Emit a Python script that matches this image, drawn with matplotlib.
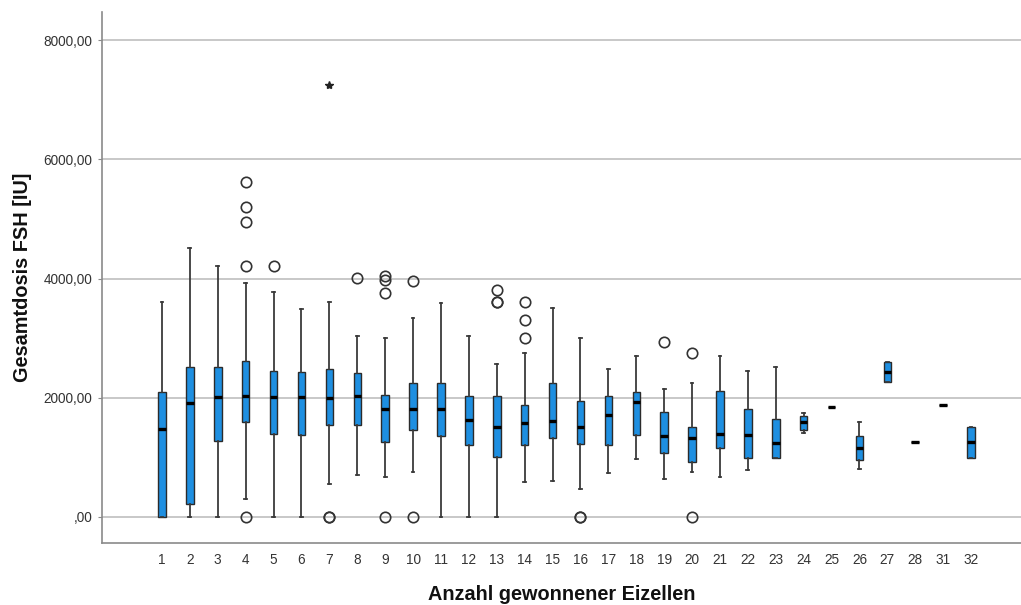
import matplotlib
matplotlib.use("Agg")
import matplotlib.pyplot as plt
from matplotlib.ticker import FuncFormatter

plt.rcParams['font.family'] = ['Liberation Sans', 'DejaVu Sans']

# Anzahl gewonnener Eizellen (categories)
labels = [1, 2, 3, 4, 5, 6, 7, 8, 9, 10, 11, 12, 13, 14, 15, 16, 17, 18, 19, 20,
          21, 22, 23, 24, 25, 26, 27, 28, 31, 32]

# box statistics (Gesamtdosis FSH [IU])
whislo = [0, 0, 0, 310, 0, 0, 555, 705, 665, 760, 0, 0, 0, 580, 610, 465, 745, 965, 630, 750,
          670, 790, 995, 1405, 1840, 805, 2265, 1258, 1885, 995]
q1 = [0, 220, 1280, 1600, 1400, 1380, 1535, 1535, 1255, 1455, 1355, 1200, 1010, 1200, 1325, 1225, 1200, 1380, 1080, 915,
      1165, 995, 995, 1460, 1840, 955, 2265, 1258, 1885, 995]
med = [1470, 1905, 2005, 2035, 2005, 2005, 1990, 2035, 1805, 1805, 1805, 1625, 1510, 1580, 1615, 1510, 1710, 1925, 1360, 1320,
       1390, 1370, 1235, 1590, 1840, 1150, 2435, 1258, 1885, 1258]
q3 = [2100, 2520, 2510, 2615, 2455, 2430, 2480, 2410, 2045, 2255, 2255, 2035, 2035, 1880, 2255, 1940, 2035, 2100, 1755, 1515,
      2120, 1810, 1645, 1700, 1840, 1365, 2600, 1258, 1885, 1505]
whishi = [3610, 4505, 4210, 3920, 3770, 3495, 3610, 3035, 3005, 3345, 3585, 3035, 2575, 2755, 3510, 3005, 2480, 2705, 2140, 2255,
          2700, 2445, 2510, 1740, 1840, 1600, 2600, 1258, 1885, 1505]
outliers = {
    4: [0, 4210, 4950, 5205, 5625],
    5: [4210],
    7: [0, 0],
    8: [4005],
    9: [0, 3750, 3975, 4040],
    10: [0, 3955],
    13: [3605, 3605, 3805],
    14: [3005, 3305, 3605],
    16: [0, 0],
    19: [2940],
    20: [0, 2755],
}
# extreme values (star)
extremes = {7: [7245]}

stats = []
for i, lab in enumerate(labels):
    stats.append(dict(med=med[i], q1=q1[i], q3=q3[i], whislo=whislo[i], whishi=whishi[i],
                      fliers=outliers.get(lab, []), label=str(lab)))

fig = plt.figure(figsize=(10.21, 6.05), dpi=100)
ax = fig.add_axes([0.0999, 0.1025, 0.9001, 0.8775])

positions = list(range(len(labels)))
ax.bxp(stats, positions=positions, widths=0.27, patch_artist=True,
       boxprops=dict(facecolor='#1e8fe1', edgecolor='#2b2b2b', linewidth=1.0),
       medianprops=dict(color='black', linewidth=2.4),
       whiskerprops=dict(color='#3a3a3a', linewidth=1.3),
       capprops=dict(color='#3a3a3a', linewidth=1.3),
       capwidths=0.1,
       flierprops=dict(marker='o', markerfacecolor='none', markeredgecolor='#333333',
                       markersize=7.5, markeredgewidth=1.2),
       zorder=3)

for lab, vals in extremes.items():
    p = labels.index(lab)
    ax.plot([p] * len(vals), vals, linestyle='none', marker='*', color='#222222',
            markersize=6, zorder=4)

ax.set_xlim(-2.15, 30.79)
ax.set_ylim(-436, 8470)
ax.set_yticks([0, 2000, 4000, 6000, 8000])
ax.yaxis.set_major_formatter(FuncFormatter(lambda v, _: ',00' if v == 0 else f'{int(v)},00'))
ax.set_xticks(positions)
ax.set_xticklabels([str(l) for l in labels])

ax.grid(axis='y', color='#c8c8c8', linewidth=1.4, zorder=0)
ax.set_axisbelow(True)
for s in ['top', 'right']:
    ax.spines[s].set_visible(False)
for s in ['left', 'bottom']:
    ax.spines[s].set_color('#8a8a8a')
    ax.spines[s].set_linewidth(1.2)

ax.tick_params(axis='y', length=3, color='#8a8a8a', labelsize=9.8, labelcolor='#333333', pad=4)
ax.tick_params(axis='x', length=0, labelsize=9.8, labelcolor='#333333', pad=7)

ax.set_xlabel('Anzahl gewonnener Eizellen', fontsize=14.3, fontweight='bold', color='#111111', labelpad=13)
ax.set_ylabel('Gesamtdosis FSH [IU]', fontsize=14.3, fontweight='bold', color='#111111', labelpad=8)

fig.savefig('out.png', dpi=100)
